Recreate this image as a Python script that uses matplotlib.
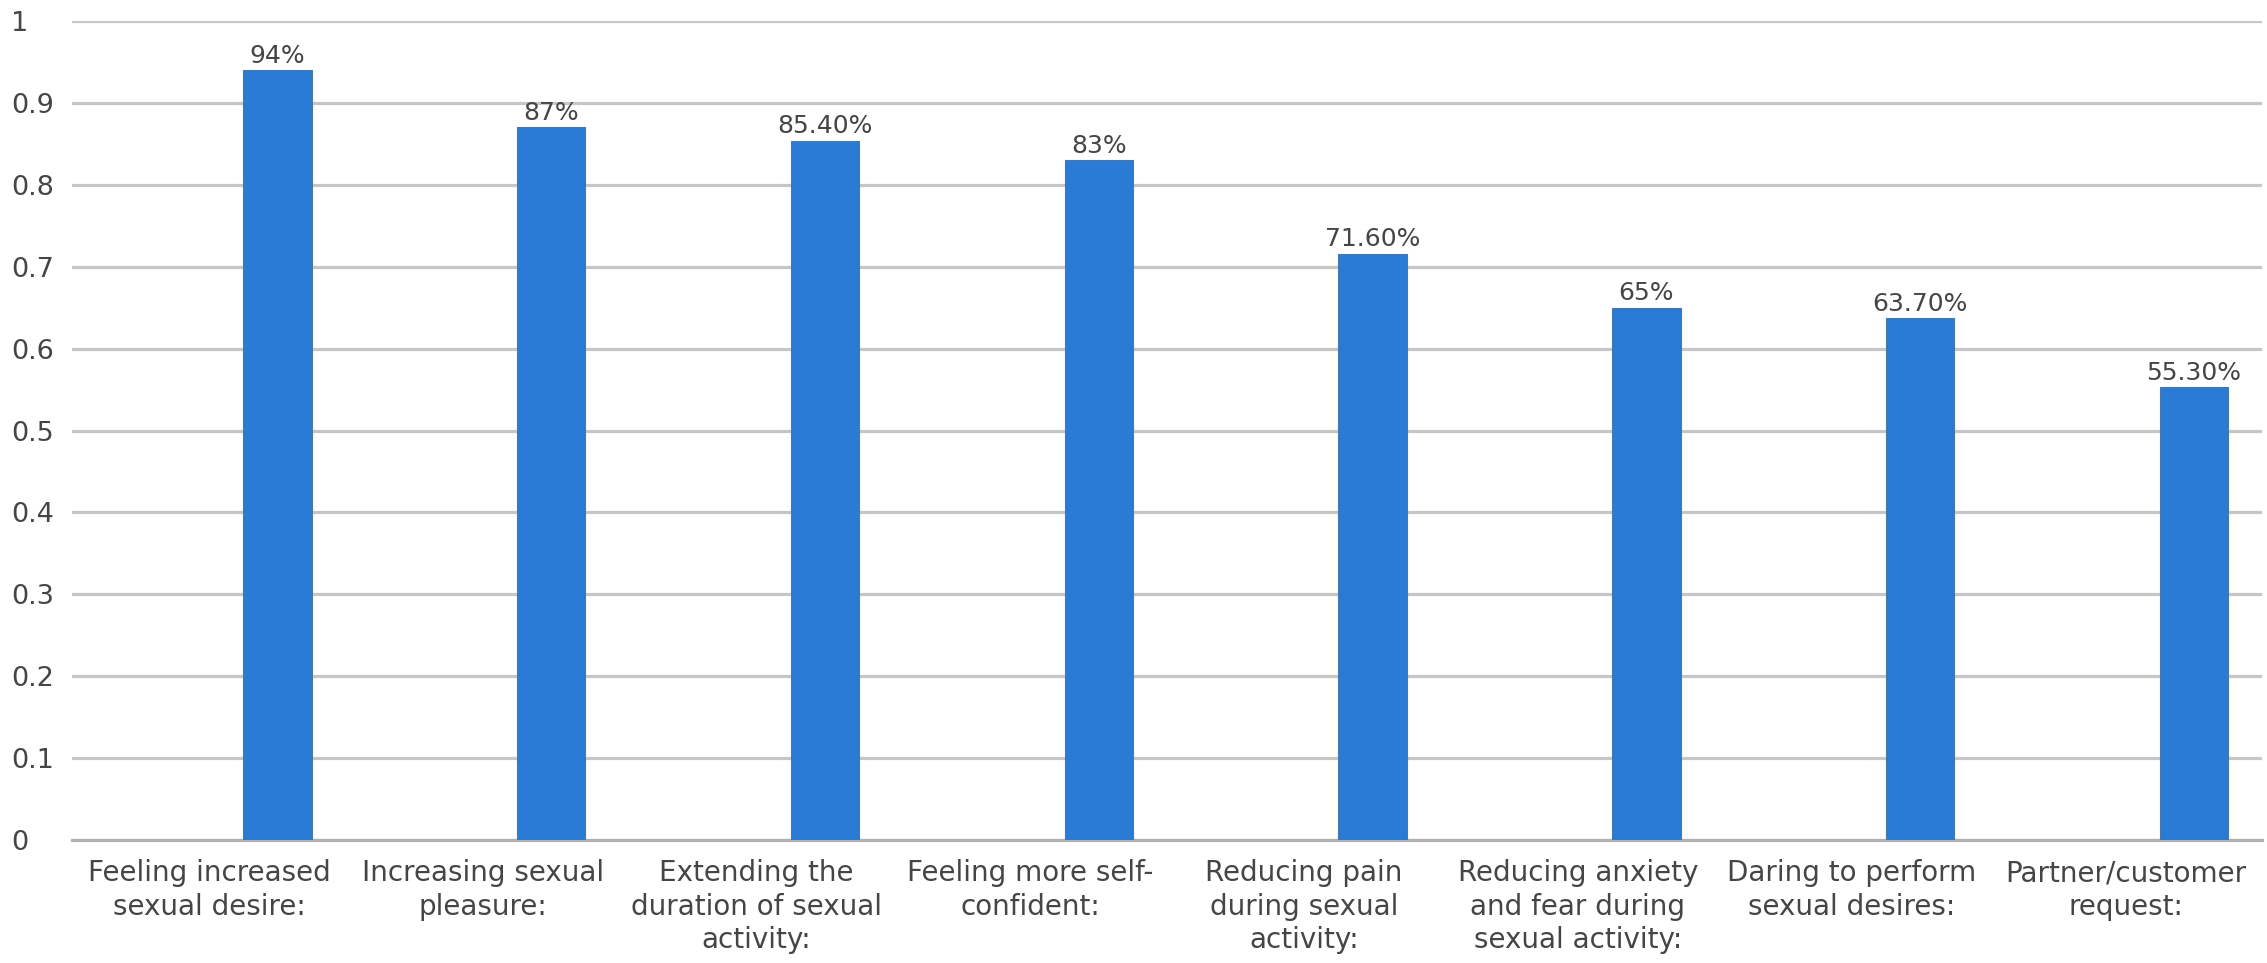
import numpy as np
import matplotlib
matplotlib.use("Agg")
import matplotlib.pyplot as plt
from matplotlib.ticker import FuncFormatter, MultipleLocator


# ===== Data =====
CATEGORIES = [
    "Feeling increased\nsexual desire:",
    "Increasing sexual\npleasure:",
    "Extending the\nduration of sexual\nactivity:",
    "Feeling more self-\nconfident:",
    "Reducing pain\nduring sexual\nactivity:",
    "Reducing anxiety\nand fear during\nsexual activity:",
    "Daring to perform\nsexual desires:",
    "Partner/customer\nrequest:",
]
VALUES = [0.94, 0.87, 0.854, 0.83, 0.716, 0.65, 0.637, 0.553]


# ===== Style =====
BAR_COLOR = "#2a7bd5"
BAR_EDGE = "#4a78a8"
GRID_COLOR = "#c6c6c6"
TEXT_COLOR = "#454545"
FONT = ["DejaVu Sans"]

plt.rcParams["font.family"] = FONT


def pct_label(v):
    """Show whole percents without decimals, others with two."""
    p = round(v * 100, 4)
    if abs(p - round(p)) < 1e-9:
        return f"{int(round(p))}%"
    return f"{p:.2f}%"


fig = plt.figure(figsize=(22.67, 9.63), dpi=100)
ax = fig.add_axes([0.0318, 0.1277, 0.9662, 0.8505])

x = np.arange(len(CATEGORIES))
bars = ax.bar(
    x + 0.25, VALUES, width=0.25,
    color=BAR_COLOR, edgecolor=BAR_EDGE, linewidth=0.8, zorder=3,
)

for rect, v in zip(bars, VALUES):
    ax.text(
        rect.get_x() + rect.get_width() / 2, v + 0.003, pct_label(v),
        ha="center", va="bottom", fontsize=18, color=TEXT_COLOR, zorder=4,
    )

ax.set_xlim(-0.5, len(CATEGORIES) - 0.5)
ax.set_ylim(0, 1.0)
ax.yaxis.set_major_locator(MultipleLocator(0.1))
ax.yaxis.set_major_formatter(FuncFormatter(lambda v, _: f"{v:.1f}".rstrip("0").rstrip(".") if v else "0"))
ax.grid(axis="y", color=GRID_COLOR, linewidth=2.3, zorder=0)
ax.set_axisbelow(True)

ax.set_xticks(x)
ax.set_xticklabels(CATEGORIES, fontsize=20, color=TEXT_COLOR, linespacing=1.25)
ax.tick_params(axis="x", length=0, pad=14)
ax.tick_params(axis="y", length=0, pad=44, labelsize=19.5, labelcolor=TEXT_COLOR)
for lbl in ax.get_yticklabels():
    lbl.set_horizontalalignment("left")

for side in ["top", "right", "left"]:
    ax.spines[side].set_visible(False)
ax.spines["bottom"].set_color("#b0b0b0")
ax.spines["bottom"].set_linewidth(2.3)

fig.savefig("out.png", dpi=100, facecolor="white")
